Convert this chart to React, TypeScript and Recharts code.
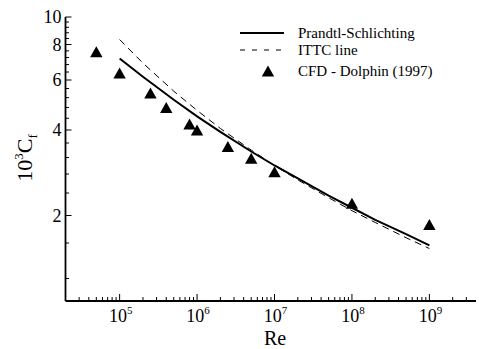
import React from 'react';
import { ComposedChart, XAxis, YAxis, Line, Scatter } from 'recharts';

// friction-line curves, read at a few Re values
const lineRe = [1e5, 2e5, 5e5, 1e6, 2e6, 5e6, 1e7, 2e7, 5e7, 1e8, 2e8, 5e8, 1e9];
const prandtlCf = [7.14, 6.16, 5.11, 4.47, 3.94, 3.36, 3.0, 2.7, 2.35, 2.13, 1.93, 1.72, 1.57];
const ittcCf = [8.33, 6.88, 5.48, 4.69, 4.05, 3.4, 3.0, 2.67, 2.31, 2.08, 1.89, 1.67, 1.53];

// CFD points (Dolphin 1997)
const cfdRe = [5e4, 1e5, 2.5e5, 4e5, 8e5, 1e6, 2.5e6, 5e6, 1e7, 1e8, 1e9];
const cfdCf = [7.55, 6.35, 5.4, 4.8, 4.2, 4.0, 3.5, 3.18, 2.85, 2.21, 1.86];

const xMajor = [1e5, 1e6, 1e7, 1e8, 1e9];
const xTicks = [3e4, 4e4, 5e4, 6e4, 7e4, 8e4, 9e4];
[1e5, 1e6, 1e7, 1e8].forEach((d) => [1, 2, 3, 4, 5, 6, 7, 8, 9].forEach((m) => xTicks.push(m * d)));
xTicks.push(1e9, 2e9, 3e9);

const yMajor = [2, 4, 6, 8, 10];
const yTicks = [1.2, 1.6, 2, 2.4, 2.8, 3.2, 3.6, 4, 4.4, 4.8, 5.2, 5.6, 6, 6.4, 6.8, 7.2, 7.6, 8, 8.4, 8.8, 9.2, 9.6, 10];

const prandtlData = lineRe.map((re, i) => ({ re, cf: prandtlCf[i] }));
const ittcData = lineRe.map((re, i) => ({ re, cf: ittcCf[i] }));
const cfdData = cfdRe.map((re, i) => ({ re, cf: cfdCf[i] }));

const FONT = 'Liberation Serif, serif';
const txt = { fontFamily: FONT };

const XTick = (props: any) => {
  const { x, y, payload } = props;
  const v = payload.value;
  const isMajor = xMajor.some((m) => Math.abs(m - v) / m < 1e-6);
  const exp = Math.round(Math.log10(v));
  return (
    <g>
      <line x1={x} y1={y} x2={x} y2={y - (isMajor ? 7 : 4)} stroke="#000" strokeWidth={1} />
      {isMajor && (
        <text x={x + 1} y={y + 21} textAnchor="middle" style={txt} fontSize={18} fill="#000">
          <tspan>10</tspan>
          <tspan dy={-8} fontSize={11}>{exp}</tspan>
        </text>
      )}
    </g>
  );
};

const YTick = (props: any) => {
  const { x, y, payload } = props;
  const v = payload.value;
  const isMajor = yMajor.includes(v);
  return (
    <g>
      <line x1={x} y1={y} x2={x + (isMajor ? 6 : 3.5)} y2={y} stroke="#000" strokeWidth={1} />
      {isMajor && (
        <text x={x - 4} y={y} textAnchor="end" dominantBaseline="central" style={txt} fontSize={18} fill="#000">
          {v}
        </text>
      )}
    </g>
  );
};

const Triangle = (props: any) => {
  const { cx, cy } = props;
  return <polygon points={`${cx},${cy - 5.5} ${cx + 6.2},${cy + 5.5} ${cx - 6.2},${cy + 5.5}`} fill="#000" />;
};

export default function App() {
  return (
    <div style={{ position: 'fixed', left: 0, top: 0, width: 479, height: 349, background: '#fff' }}>
      <ComposedChart width={479} height={349} margin={{ top: 17, right: 3, bottom: 0, left: 5.5 }}>
        <XAxis
          dataKey="re"
          type="number"
          scale="log"
          domain={[2e4, 4e9]}
          allowDataOverflow
          ticks={xTicks}
          interval={0}
          tick={<XTick />}
          tickLine={false}
          tickSize={0}
          tickMargin={0}
          height={48}
          axisLine={{ stroke: '#000', strokeWidth: 1.8 }}
        />
        <YAxis
          dataKey="cf"
          type="number"
          scale="log"
          domain={[1, 10]}
          allowDataOverflow
          ticks={yTicks}
          interval={0}
          tick={<YTick />}
          tickLine={false}
          tickSize={0}
          tickMargin={0}
          width={60}
          axisLine={{ stroke: '#000', strokeWidth: 1.8 }}
        />
        <Line data={ittcData} dataKey="cf" stroke="#000" strokeWidth={1} strokeDasharray="7 5" dot={false} isAnimationActive={false} />
        <Line data={prandtlData} dataKey="cf" stroke="#000" strokeWidth={2} dot={false} isAnimationActive={false} />
        <Scatter data={cfdData} dataKey="cf" shape={<Triangle />} isAnimationActive={false} />
      </ComposedChart>
      <svg width={479} height={349} style={{ position: 'absolute', left: 0, top: 0, pointerEvents: 'none' }}>
        {/* legend */}
        <line x1={240} y1={33} x2={284} y2={33} stroke="#000" strokeWidth={2} />
        <text x={298} y={33} dominantBaseline="central" style={txt} fontSize={15} fill="#000">Prandtl-Schlichting</text>
        <line x1={240} y1={50} x2={284} y2={50} stroke="#000" strokeWidth={1} strokeDasharray="5 7" />
        <text x={298} y={50} dominantBaseline="central" style={txt} fontSize={15} fill="#000">ITTC line</text>
        <polygon points="268,65.5 274.2,76.5 261.8,76.5" fill="#000" />
        <text x={298} y={71} dominantBaseline="central" style={txt} fontSize={15} fill="#000">{'CFD  - Dolphin (1997)'}</text>
        {/* axis titles */}
        <text x={275} y={345} textAnchor="middle" style={txt} fontSize={20} fill="#000">Re</text>
        <text transform="translate(32,158) rotate(-90)" textAnchor="middle" style={txt} fontSize={22} fill="#000">
          <tspan>10</tspan>
          <tspan dy={-9} fontSize={13}>3</tspan>
          <tspan dy={9}>C</tspan>
          <tspan dy={5} fontSize={13}>f</tspan>
        </text>
      </svg>
    </div>
  );
}
